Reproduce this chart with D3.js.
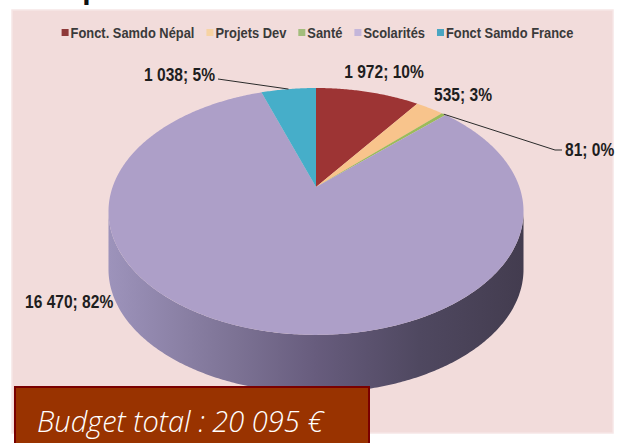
<!DOCTYPE html>
<html>
<head>
<meta charset="utf-8">
<script src="https://cdn.jsdelivr.net/npm/d3@7"></script>
<style>
  body { margin: 0; background: #ffffff; }
  svg { display: block; }
</style>
</head>
<body>
<div id="chart"></div>
<script>
// data
var categories = ['Fonct. Samdo Népal', 'Projets Dev', 'Santé', 'Scolarités', 'Fonct Samdo France'];
var values = [1972, 535, 81, 16470, 1038];
var budgetTotal = 20095;
var titleText = 'Répartition';

// styles
var colors = ['#9d3434', '#f8c48c', '#9bbb59', '#ad9fc8', '#46aec9'];
var legendColors = ['#8e3838', '#f7d3a3', '#a3bd7c', '#c4b6da', '#4aa6c2'];

var width = 619, height = 443;

// pie geometry (perspective tilted disc)
var cx = 316, cy = 187, rx = 203.4, ry = 118.6, persp = 0.198, depth = 58;

var fr = d3.formatLocale({ decimal: ',', thousands: ' ', grouping: [3], currency: ['', ' €'] });
var fmtNum = fr.format(',d');

var svg = d3.select('#chart').append('svg')
    .attr('width', width)
    .attr('height', height);

// cut off title above the frame
svg.append('text')
    .attr('x', 44)
    .attr('y', -1)
    .attr('font-family', 'Liberation Sans, Arial, sans-serif')
    .attr('font-weight', 'bold')
    .attr('font-size', 30)
    .attr('fill', '#111')
    .text(titleText);

// pink chart area
svg.append('rect')
    .attr('x', 12).attr('y', 10)
    .attr('width', 601).attr('height', 423)
    .attr('fill', '#f2dcdb')
    .attr('stroke', '#f6e6e6')
    .attr('stroke-width', 1.5);

var defs = svg.append('defs');
var grad = defs.append('linearGradient')
    .attr('id', 'sideGrad')
    .attr('gradientUnits', 'userSpaceOnUse')
    .attr('x1', cx - rx * 1.02).attr('x2', cx + rx * 1.02)
    .attr('y1', 0).attr('y2', 0);
[[0, '#9d93bb'], [0.3, '#7d7395'], [0.5, '#675c7d'], [0.75, '#4f4860'], [1, '#433c4f']].forEach(function (s) {
    grad.append('stop').attr('offset', s[0]).attr('stop-color', s[1]);
});

var pie = d3.pie().sort(null).value(function (d) { return d; });
var arcs = pie(values);
var total = d3.sum(values);

// project an angle (clockwise from 12 o'clock) on the tilted disc
function proj(ang, r, dy) {
    r = r === undefined ? 1 : r;
    dy = dy || 0;
    var u = r * Math.sin(ang), v = -r * Math.cos(ang);
    var w = 1 - persp * v;
    return [cx + rx * u / w, cy + ry * v / w + dy];
}

function arcPts(a0, a1, dy) {
    var n = Math.max(2, Math.ceil(Math.abs(a1 - a0) / 0.01));
    var pts = [];
    for (var i = 0; i <= n; i++) {
        pts.push(proj(a0 + (a1 - a0) * i / n, 1, dy));
    }
    return pts;
}

var line = d3.line();

// side of the disc (front half)
var angR = Math.acos(-persp), angL = 2 * Math.PI - angR;
var sidePts = arcPts(angR, angL, 0).concat(arcPts(angL, angR, depth));
svg.append('path')
    .attr('d', line(sidePts) + 'Z')
    .attr('fill', 'url(#sideGrad)');

// top face slices
svg.append('g').selectAll('path')
    .data(arcs)
    .join('path')
    .attr('d', function (d) {
        return line([proj(0, 0)].concat(arcPts(d.startAngle, d.endAngle, 0))) + 'Z';
    })
    .attr('fill', function (d, i) { return colors[i]; });

// data labels (placement of the label boxes only)
var labelLayout = [
    { x: 384, y: 78, anchor: 'middle', leader: false },
    { x: 463, y: 101, anchor: 'middle', leader: false },
    { x: 565, y: 156, anchor: 'start', leader: [[555, 150], [562, 150]] },
    { x: 25, y: 308, anchor: 'start', leader: false },
    { x: 215, y: 81, anchor: 'end', leader: [[218, 79]] }
];

var labelG = svg.append('g');
arcs.forEach(function (d, i) {
    var lay = labelLayout[i];
    var mid = (d.startAngle + d.endAngle) / 2;
    if (lay.leader) {
        var pts = [proj(mid, 1)].concat(lay.leader);
        labelG.append('path')
            .attr('d', line(pts))
            .attr('fill', 'none')
            .attr('stroke', '#2a2a2a')
            .attr('stroke-width', 1);
    }
    labelG.append('text')
        .attr('transform', 'translate(' + lay.x + ',' + lay.y + ') scale(0.82,1)')
        .attr('text-anchor', lay.anchor)
        .attr('font-family', 'Liberation Sans, Arial, sans-serif')
        .attr('font-weight', 'bold')
        .attr('font-size', 19)
        .attr('fill', '#1e1e1e')
        .text(fmtNum(values[i]) + '; ' + Math.round(values[i] / total * 100) + '%');
});

// legend
var legend = svg.append('g');
var lx = 0, squeeze = 0.86;
categories.forEach(function (c, i) {
    legend.append('rect')
        .attr('x', lx).attr('y', -4)
        .attr('width', 7).attr('height', 7)
        .attr('fill', legendColors[i]);
    var t = legend.append('text')
        .attr('transform', 'translate(' + (lx + 9) + ',5) scale(' + squeeze + ',1)')
        .attr('font-family', 'Liberation Sans, Arial, sans-serif')
        .attr('font-weight', 'bold')
        .attr('font-size', 15)
        .attr('fill', '#3a3a3a')
        .text(c);
    lx += 9 + t.node().getComputedTextLength() * squeeze + 12;
});
var legW = lx - 12;
legend.attr('transform', 'translate(' + (317.5 - legW / 2) + ',33)');

// budget total box
svg.append('rect')
    .attr('x', 15).attr('y', 387)
    .attr('width', 354).attr('height', 70)
    .attr('fill', '#993300')
    .attr('stroke', '#7a0000')
    .attr('stroke-width', 2);

var budget = svg.append('text')
    .attr('x', 37)
    .attr('y', 432)
    .attr('font-family', 'Open Sans, Noto Sans, sans-serif')
    .attr('font-style', 'italic')
    .attr('font-weight', 300)
    .attr('font-size', 26)
    .attr('fill', '#ffffff')
    .text('Budget total : ' + fmtNum(budgetTotal) + ' €');
// fit the line to the width it takes in the picture
var bw = budget.node().getComputedTextLength();
budget.attr('font-size', Math.min(29, 26 * 293 / bw));
</script>
</body>
</html>
